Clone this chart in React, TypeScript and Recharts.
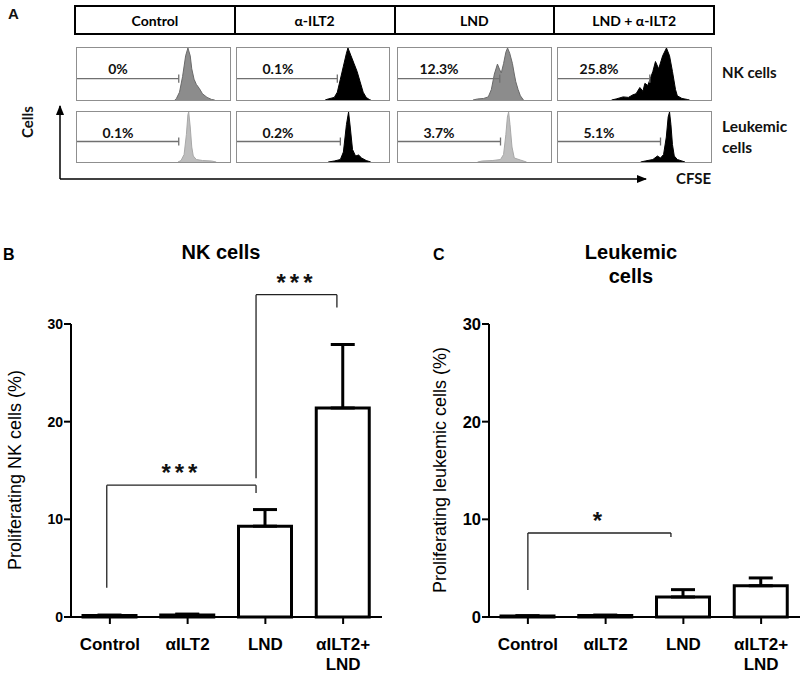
import React from "react";
import {
  AreaChart,
  Area,
  BarChart,
  Bar,
  ErrorBar,
  XAxis,
  YAxis,
  ReferenceLine,
} from "recharts";

// ---- panel A: CFSE histograms ----
const conditions = ["Control", "α-ILT2", "LND", "LND + α-ILT2"];
const nkPercent = ["0%", "0.1%", "12.3%", "25.8%"];
const leukPercent = ["0.1%", "0.2%", "3.7%", "5.1%"];
const nkGate = [66.5, 66, 66.5, 60];
const leukGate = [66.5, 68, 67, 67];

// [CFSE position (% of box), relative count]
const nkControlHist: [number, number][] = [
  [64, 0], [65, 0.03], [67, 0.15], [69, 0.45], [71, 0.85], [72.5, 1], [74, 0.85], [75, 0.6],
  [76.5, 0.4], [78, 0.3], [80, 0.22], [82, 0.12], [85, 0.05], [88, 0.01], [90, 0],
];
const nkIlt2Hist: [number, number][] = [
  [58, 0], [60, 0.02], [64, 0.05], [66, 0.15], [68, 0.4], [70, 0.65], [72, 0.9], [73, 1],
  [75, 0.85], [77, 0.7], [79, 0.55], [81, 0.35], [83, 0.15], [85, 0.05], [87, 0.01], [88, 0],
];
const nkLndHist: [number, number][] = [
  [49, 0], [52, 0.02], [56, 0.03], [59, 0.06], [61, 0.2], [63, 0.5], [65, 0.69], [66.5, 0.58],
  [67.5, 0.52], [69, 0.7], [70.5, 0.92], [71.6, 1], [73, 0.9], [74.8, 0.7], [76, 0.5],
  [77, 0.35], [78.5, 0.2], [80, 0.08], [82, 0],
];
const nkComboHist: [number, number][] = [
  [35, 0], [38, 0.02], [42.6, 0.06], [46, 0.05], [49, 0.1], [51, 0.12], [53.5, 0.24],
  [55.5, 0.17], [56.8, 0.32], [58.7, 0.28], [62, 0.55], [63.7, 0.74], [65.8, 0.6], [68.4, 0.85],
  [70.9, 1], [72.9, 0.85], [74.8, 0.55], [76.8, 0.2], [78, 0.08], [81, 0.03], [84.5, 0.01], [86, 0],
];
const leukControlHist: [number, number][] = [
  [66, 0], [68, 0.03], [70, 0.15], [71.5, 0.55], [72.5, 0.95], [73, 1], [74, 0.7], [75, 0.3],
  [76, 0.12], [78, 0.05], [82, 0.03], [88, 0.02], [91, 0],
];
const leukIlt2Hist: [number, number][] = [
  [60, 0], [64, 0.02], [68, 0.05], [70, 0.2], [72, 0.75], [73.4, 1], [74.5, 0.7], [76, 0.25],
  [78, 0.12], [80, 0.14], [82, 0.08], [85, 0.03], [88, 0],
];
const leukLndHist: [number, number][] = [
  [52, 0], [55, 0.02], [62, 0.03], [67, 0.05], [69, 0.15], [70.5, 0.55], [71.5, 0.9], [72.3, 1],
  [73.2, 0.75], [74.5, 0.3], [76, 0.08], [80, 0.04], [84, 0],
];
const leukComboHist: [number, number][] = [
  [54, 0], [57, 0.02], [62, 0.05], [65, 0.12], [67, 0.08], [69, 0.15], [70.8, 0.5], [72, 0.9],
  [72.9, 1], [73.8, 0.75], [74.8, 0.35], [76, 0.12], [78, 0.05], [81, 0.02], [83, 0],
];

// ---- panels B and C: proliferation bars (mean + SD) ----
const groups = ["Control", "αILT2", "LND", "αILT2+\nLND"];
const nkMean = [0.15, 0.2, 9.3, 21.4];
const nkSd = [0.05, 0.1, 1.7, 6.5];
const leukMean = [0.1, 0.15, 2.05, 3.2];
const leukSd = [0.03, 0.05, 0.75, 0.8];
const yTicks = [0, 10, 20, 30];

const ARIAL = "'Liberation Sans', Arial, sans-serif";
const CALIBRI = "Lato, 'Open Sans', sans-serif";

const boxCols = [
  [76, 155],
  [236, 154],
  [397, 155],
  [557, 155],
];

function Histogram({
  left,
  top,
  width,
  height,
  points,
  gate,
  label,
  fill,
  stroke,
}: {
  left: number;
  top: number;
  width: number;
  height: number;
  points: [number, number][];
  gate: number;
  label: string;
  fill: string;
  stroke: string;
}) {
  const data = points.map(([x, y]) => ({ x, y }));
  return (
    <div
      style={{
        position: "absolute",
        left,
        top,
        width,
        height,
        border: "1px solid #8f8f8f",
        boxSizing: "border-box",
        background: "#fff",
      }}
    >
      <AreaChart width={width - 2} height={height - 2} data={data} margin={{ top: 0, right: 0, bottom: 0, left: 0 }}>
        <XAxis type="number" dataKey="x" domain={[0, 100]} hide />
        <YAxis type="number" domain={[0, 1]} hide />
        <ReferenceLine segment={[{ x: 0, y: 0.41 }, { x: gate, y: 0.41 }]} stroke="#707070" strokeWidth={1.3} />
        <ReferenceLine segment={[{ x: gate, y: 0.33 }, { x: gate, y: 0.49 }]} stroke="#707070" strokeWidth={1.3} />
        <Area
          type="linear"
          dataKey="y"
          fill={fill}
          fillOpacity={1}
          stroke={stroke}
          strokeWidth={1}
          isAnimationActive={false}
        />
      </AreaChart>
      <div
        style={{
          position: "absolute",
          left: 0,
          top: 12,
          width: 82,
          textAlign: "center",
          fontFamily: CALIBRI,
          fontWeight: 700,
          fontSize: 14,
          color: "#111",
        }}
      >
        {label}
      </div>
    </div>
  );
}

function PanelA() {
  const nkHists = [nkControlHist, nkIlt2Hist, nkLndHist, nkComboHist];
  const leukHists = [leukControlHist, leukIlt2Hist, leukLndHist, leukComboHist];
  const nkFill = ["#8c8c8c", "#000", "#8c8c8c", "#000"];
  const leukFill = ["#bdbdbd", "#000", "#bdbdbd", "#000"];
  return (
    <>
      <div
        style={{
          position: "absolute",
          left: 74,
          top: 5,
          width: 641,
          height: 30,
          border: "2px solid #000",
          boxSizing: "border-box",
          display: "flex",
        }}
      >
        {conditions.map((c, i) => (
          <div
            key={c}
            style={{
              flex: 1,
              borderLeft: i === 0 ? "none" : "2px solid #000",
              display: "flex",
              alignItems: "center",
              justifyContent: "center",
              fontFamily: CALIBRI,
              fontWeight: 700,
              fontSize: 14,
            }}
          >
            {c}
          </div>
        ))}
      </div>
      {boxCols.map(([x, w], i) => (
        <Histogram
          key={"nk" + i}
          left={x}
          top={47}
          width={w}
          height={54}
          points={nkHists[i]}
          gate={nkGate[i]}
          label={nkPercent[i]}
          fill={nkFill[i]}
          stroke={nkFill[i] === "#000" ? "#000" : "#6a6a6a"}
        />
      ))}
      {boxCols.map(([x, w], i) => (
        <Histogram
          key={"lk" + i}
          left={x}
          top={111}
          width={w}
          height={52}
          points={leukHists[i]}
          gate={leukGate[i]}
          label={leukPercent[i]}
          fill={leukFill[i]}
          stroke={leukFill[i] === "#000" ? "#000" : "#a8a8a8"}
        />
      ))}
    </>
  );
}

function GroupTick(props: any) {
  const { x, y, payload } = props;
  const lines = String(groups[payload.value] ?? "").split("\n");
  return (
    <text x={x} y={y} textAnchor="middle" fontSize={17} fontWeight={700} fill="#000" fontFamily={ARIAL}>
      {lines.map((l, i) => (
        <tspan key={i} x={x} dy={i === 0 ? 24 : 20}>
          {l}
        </tspan>
      ))}
    </text>
  );
}

type Bracket = { x1: number; x2: number; y: number; y1: number; y2: number; stars: string };

function ProliferationChart({
  left,
  top,
  width,
  height,
  yAxisWidth,
  marginRight,
  tickFont,
  means,
  sds,
  brackets,
}: {
  left: number;
  top: number;
  width: number;
  height: number;
  yAxisWidth: number;
  marginRight: number;
  tickFont: number;
  means: number[];
  sds: number[];
  brackets: Bracket[];
}) {
  const data = groups.map((g, i) => ({ x: i, name: g, mean: means[i], err: [0, sds[i]] }));
  const axisStyle = { stroke: "#000", strokeWidth: 2 };
  return (
    <div style={{ position: "absolute", left, top }}>
      <BarChart
        width={width}
        height={height}
        data={data}
        margin={{ top: 124, right: marginRight, bottom: 0, left: 0 }}
      >
        <XAxis
          type="number"
          dataKey="x"
          domain={[-0.5, 3.5]}
          ticks={[0, 1, 2, 3]}
          tick={<GroupTick />}
          tickSize={7}
          height={60}
          axisLine={axisStyle}
          tickLine={axisStyle}
          interval={0}
        />
        <YAxis
          type="number"
          domain={[0, 30]}
          ticks={yTicks}
          width={yAxisWidth}
          tickSize={7}
          tickMargin={1}
          axisLine={axisStyle}
          tickLine={axisStyle}
          tick={{ fontSize: tickFont, fontWeight: 700, fill: "#000", fontFamily: ARIAL }}
          interval={0}
        />
        {brackets.map((b, i) => (
          <ReferenceLine
            key={"l" + i}
            segment={[{ x: b.x1, y: b.y1 }, { x: b.x1, y: b.y }]}
            stroke="#222"
            strokeWidth={1.3}
            ifOverflow="visible"
          />
        ))}
        {brackets.map((b, i) => (
          <ReferenceLine
            key={"r" + i}
            segment={[{ x: b.x2, y: b.y2 }, { x: b.x2, y: b.y }]}
            stroke="#222"
            strokeWidth={1.3}
            ifOverflow="visible"
          />
        ))}
        {brackets.map((b, i) => (
          <ReferenceLine
            key={"h" + i}
            segment={[{ x: b.x1, y: b.y }, { x: b.x2, y: b.y }]}
            stroke="#222"
            strokeWidth={1.3}
            ifOverflow="visible"
            label={{
              value: b.stars,
              position: "top",
              offset: 4,
              fontSize: 24,
              fontWeight: 700,
              fill: "#111",
              fontFamily: ARIAL,
              letterSpacing: 4,
            }}
          />
        ))}
        <Bar dataKey="mean" fill="#fff" stroke="#000" strokeWidth={3} barSize={53} isAnimationActive={false}>
          <ErrorBar dataKey="err" width={12} stroke="#000" strokeWidth={3} direction="y" />
        </Bar>
      </BarChart>
    </div>
  );
}

const nkBrackets: Bracket[] = [
  { x1: -0.04, x2: 1.88, y: 13.5, y1: 3.0, y2: 12.7, stars: "***" },
  { x1: 1.88, x2: 2.92, y: 33.0, y1: 14.2, y2: 31.7, stars: "***" },
];
const leukBrackets: Bracket[] = [{ x1: 0, x2: 1.84, y: 8.6, y1: 2.76, y2: 8.2, stars: "*" }];

export default function App() {
  return (
    <div
      style={{
        position: "absolute",
        left: 0,
        top: 0,
        width: 804,
        height: 677,
        background: "#fff",
        overflow: "hidden",
      }}
    >
      <PanelA />
      <ProliferationChart
        left={0}
        top={200}
        width={400}
        height={477}
        yAxisWidth={71}
        marginRight={18}
        tickFont={14}
        means={nkMean}
        sds={nkSd}
        brackets={nkBrackets}
      />
      <ProliferationChart
        left={400}
        top={200}
        width={404}
        height={477}
        yAxisWidth={89}
        marginRight={4}
        tickFont={16.5}
        means={leukMean}
        sds={leukSd}
        brackets={leukBrackets}
      />
      <svg
        width={804}
        height={677}
        style={{ position: "absolute", left: 0, top: 0, pointerEvents: "none" }}
      >
        <defs>
          <marker id="arrow" viewBox="0 0 10 10" refX="9" refY="5" markerWidth="7" markerHeight="7" orient="auto">
            <path d="M0,1 L10,5 L0,9 z" fill="#000" />
          </marker>
        </defs>
        {/* panel A axes */}
        <line x1={60} y1={179} x2={60} y2={106} stroke="#000" strokeWidth={1.5} markerEnd="url(#arrow)" />
        <line x1={60} y1={179} x2={646} y2={179} stroke="#000" strokeWidth={1.5} markerEnd="url(#arrow)" />
        <g fontFamily={CALIBRI} fontWeight={700} fill="#111">
          <text x={8} y={19} fontFamily={ARIAL} fontSize={15}>A</text>
          <text x={0} y={0} fontSize={15} textAnchor="middle" transform="translate(33,122) rotate(-90)">Cells</text>
          <text x={722} y={78} fontSize={15}>NK cells</text>
          <text x={722} y={132} fontSize={15.5}>Leukemic</text>
          <text x={722} y={153} fontSize={15.5}>cells</text>
          <text x={676} y={184} fontSize={15}>CFSE</text>
        </g>
        <g fontFamily={ARIAL} fill="#000">
          <text x={3} y={260} fontSize={16} fontWeight={700}>B</text>
          <text x={433} y={260} fontSize={16} fontWeight={700}>C</text>
          <text x={221} y={259} fontSize={20} fontWeight={700} textAnchor="middle">NK cells</text>
          <text x={631} y={259} fontSize={20} fontWeight={700} textAnchor="middle">Leukemic</text>
          <text x={631} y={283} fontSize={20} fontWeight={700} textAnchor="middle">cells</text>
          <text x={0} y={0} fontSize={18} textAnchor="middle" transform="translate(21,470) rotate(-90)">
            Proliferating NK cells (%)
          </text>
          <text x={0} y={0} fontSize={18} textAnchor="middle" transform="translate(446,470) rotate(-90)">
            Proliferating leukemic cells (%)
          </text>
        </g>
      </svg>
    </div>
  );
}
